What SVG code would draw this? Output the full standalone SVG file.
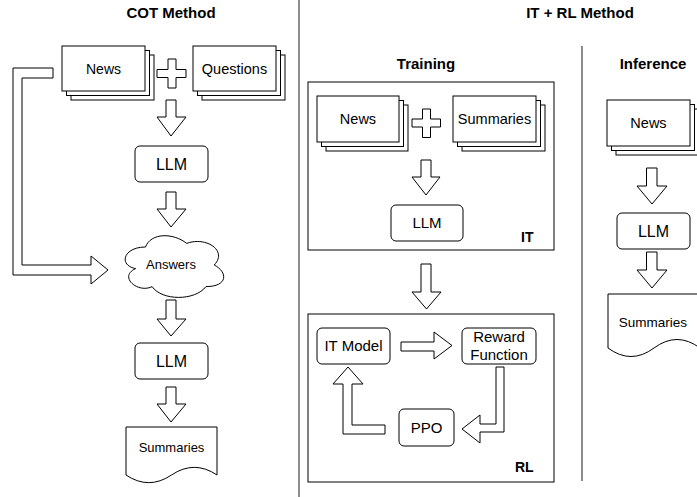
<svg xmlns="http://www.w3.org/2000/svg" width="697" height="497" viewBox="0 0 697 497">
  <style>
    .shape { fill: #fff; stroke: #000; stroke-width: 1; }
    .arrow { fill: #fff; stroke: #000; stroke-width: 1; stroke-linejoin: miter; }
    .frame { fill: none; stroke: #000; stroke-width: 1; }
    .divider { stroke: #666; stroke-width: 1.5; }
    text { font-family: "Liberation Sans", Arial, Helvetica, sans-serif; fill: #000; text-anchor: middle; }
    .title { font-size: 15px; font-weight: bold; }
    .tag { font-size: 14px; font-weight: bold; text-anchor: start; }
  </style>

  <rect x="0" y="0" width="697" height="497" fill="#fff"/>

  <!-- section dividers -->
  <g id="dividers">
    <line class="divider" x1="299" y1="0" x2="299" y2="497"/>
    <line class="divider" x1="582" y1="46" x2="582" y2="481"/>
  </g>

  <!-- headings -->
  <g id="headings">
    <text class="title" x="171" y="18">COT Method</text>
    <text class="title" x="580" y="18">IT + RL Method</text>
    <text class="title" x="426" y="69">Training</text>
    <text class="title" x="653" y="69">Inference</text>
  </g>

  <!-- ========== COT method ========== -->
  <g id="cot-news">
    <rect class="shape" x="71" y="55" width="83" height="45"/>
    <rect class="shape" x="66.5" y="50.5" width="83" height="45"/>
    <rect class="shape" x="62" y="46" width="83" height="45"/>
    <text x="103.5" y="73.5" font-size="14">News</text>
  </g>
  <g id="cot-plus">
    <path class="arrow" d="M168,59 H176 V69.5 H186 V77.5 H176 V88 H168 V77.5 H157 V69.5 H168 Z"/>
  </g>
  <g id="cot-questions">
    <rect class="shape" x="202" y="55" width="83" height="45"/>
    <rect class="shape" x="197.5" y="50.5" width="83" height="45"/>
    <rect class="shape" x="193" y="46" width="83" height="45"/>
    <text x="234.5" y="73.5" font-size="14.5">Questions</text>
  </g>
  <g id="cot-llm-1">
    <rect class="shape" x="135" y="146" width="73" height="36" rx="5"/>
    <text x="171.5" y="169.7" font-size="16">LLM</text>
  </g>
  <g id="cot-answers">
    <path class="shape" d="M145.5,247 C123.5,247 118,265 135.6,268.6 C118,276.5 137.8,293.8 152.1,286.6 C162,301 195,301 206,286.6 C228,286.6 228,272.2 214.25,265 C228,250.6 206,236.2 186.75,243.4 C173,232.6 151,232.6 145.5,247 Z"/>
    <text x="171" y="268.7" font-size="13">Answers</text>
  </g>
  <g id="cot-llm-2">
    <rect class="shape" x="135" y="343" width="73" height="36" rx="5"/>
    <text x="171.5" y="366.7" font-size="16">LLM</text>
  </g>
  <g id="cot-summaries">
    <path class="shape" d="M126,427 H217 V475 Q194.25,459.7 171.5,475 Q148.75,490.3 126,475 Z"/>
    <text x="171.5" y="451.7" font-size="13">Summaries</text>
  </g>

  <!-- ========== Training: IT ========== -->
  <g id="it-stage">
    <rect class="frame" x="308" y="82" width="246" height="168"/>
    <text class="tag" x="521" y="242" font-size="13">IT</text>
  </g>
  <g id="it-news">
    <rect class="shape" x="326" y="105" width="82" height="46"/>
    <rect class="shape" x="321.5" y="100.5" width="82" height="46"/>
    <rect class="shape" x="317" y="96" width="82" height="46"/>
    <text x="358" y="124.2" font-size="14.5">News</text>
  </g>
  <g id="it-plus">
    <path class="arrow" d="M422.5,109 H430.5 V119 H440.5 V127 H430.5 V137.5 H422.5 V127 H412 V119 H422.5 Z"/>
  </g>
  <g id="it-summaries">
    <rect class="shape" x="462" y="105" width="83" height="46"/>
    <rect class="shape" x="457.5" y="100.5" width="83" height="46"/>
    <rect class="shape" x="453" y="96" width="83" height="46"/>
    <text x="494.5" y="124.2" font-size="14.5">Summaries</text>
  </g>
  <g id="it-llm">
    <rect class="shape" x="391" y="205" width="72" height="36" rx="5"/>
    <text x="427" y="228.4" font-size="15">LLM</text>
  </g>

  <!-- ========== Training: RL ========== -->
  <g id="rl-stage">
    <rect class="frame" x="308" y="314" width="246" height="168"/>
    <text class="tag" x="515" y="472">RL</text>
  </g>
  <g id="rl-it-model">
    <rect class="shape" x="317" y="328" width="73" height="36" rx="5"/>
    <text x="353.5" y="351.4" font-size="15">IT Model</text>
  </g>
  <g id="rl-reward">
    <rect class="shape" x="462" y="328" width="74" height="36" rx="5"/>
    <text x="499" y="342.4" font-size="15">Reward</text>
    <text x="499" y="359.9" font-size="15">Function</text>
  </g>
  <g id="rl-ppo">
    <rect class="shape" x="399" y="409" width="55" height="37" rx="5"/>
    <text x="426.5" y="433.4" font-size="15">PPO</text>
  </g>

  <!-- ========== Inference ========== -->
  <g id="inf-news">
    <rect class="shape" x="616" y="109" width="83" height="46"/>
    <rect class="shape" x="611.5" y="104.5" width="83" height="46"/>
    <rect class="shape" x="607" y="100" width="83" height="46"/>
    <text x="648.5" y="128.2" font-size="14.5">News</text>
  </g>
  <g id="inf-llm">
    <rect class="shape" x="617" y="213" width="73" height="36" rx="5"/>
    <text x="653.5" y="236.8" font-size="16">LLM</text>
  </g>
  <g id="inf-summaries">
    <path class="shape" d="M608,294 H700 V348 Q677,331 654,348 Q631,365 608,348 Z"/>
    <text x="653" y="326.9" font-size="13.5">Summaries</text>
  </g>

  <!-- ========== connectors (block arrows) ========== -->
  <g id="connectors">
    <!-- COT flow -->
    <path class="arrow" d="M166,100 H176 V117 H186 L171,136 L157,117 H166 Z"/>
    <path class="arrow" d="M166,192 H176 V209 H186 L171,227 L157,209 H166 Z"/>
    <path class="arrow" d="M166,300 H176 V319 H186 L171,336 L157,319 H166 Z"/>
    <path class="arrow" d="M166,387 H176 V404 H186 L171,422 L157,404 H166 Z"/>
    <!-- News fed straight into Answers -->
    <path class="arrow" d="M53,68 H13 V275 H91 V284 L108,270 L91,256 V265 H22 V78 H53 Z"/>

    <!-- Training -->
    <path class="arrow" d="M421,160 H431 V177 H440 L426,195 L412,177 H421 Z"/>
    <path class="arrow" d="M421,264 H431 V292 H441 L426.5,309 L412,292 H421 Z"/>
    <path class="arrow" d="M401,342 H434 V332 L452,345.5 L434,359 V351 H401 Z"/>
    <path class="arrow" d="M496,367 H504 V432 H480 V443 L462,429 L480,415 V424 H496 Z"/>
    <path class="arrow" d="M348,367 L363,384 H352 V425 H385 V434 H343 V384 H333 Z"/>

    <!-- Inference -->
    <path class="arrow" d="M646.5,168 H657 V186 H667 L652,204 L637,186 H646.5 Z"/>
    <path class="arrow" d="M646.5,252 H657 V270 H667 L652,288 L637,270 H646.5 Z"/>
  </g>
</svg>
